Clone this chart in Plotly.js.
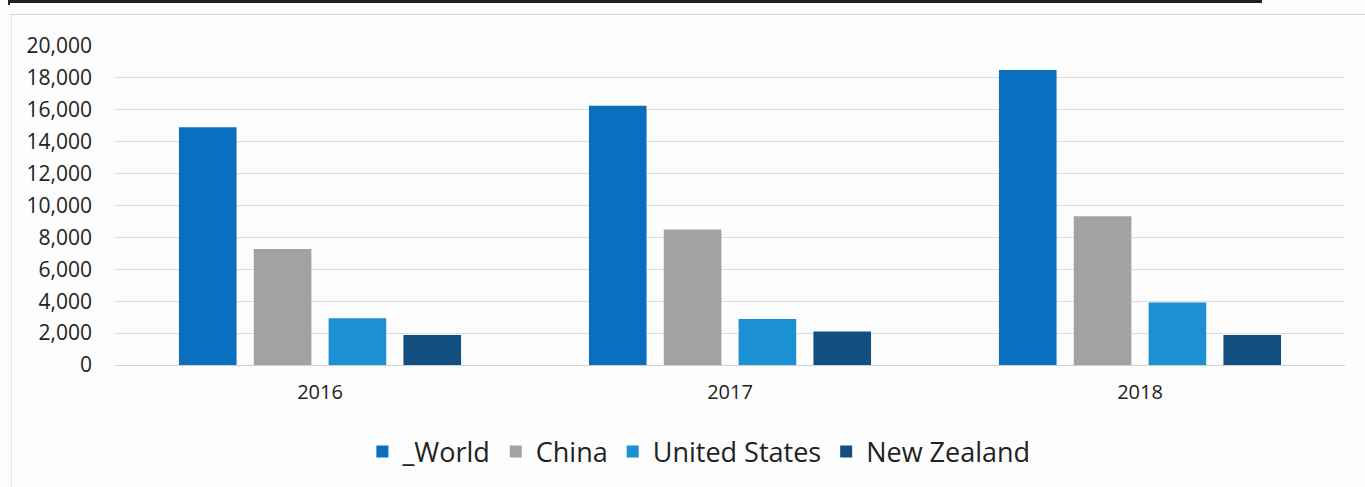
<!DOCTYPE html>
<html>
<head>
<meta charset="utf-8">
<script src="https://cdn.plot.ly/plotly-3.0.1.min.js"></script>
<style>
  html, body { margin: 0; padding: 0; background: #fdfdfd; }
  #wrap { position: relative; width: 1365px; height: 487px; overflow: hidden; }
  #chart { width: 1365px; height: 487px; }
  .deco { position: absolute; pointer-events: none; }
</style>
</head>
<body>
<div id="wrap">
  <div id="chart"></div>
  <div class="deco" style="left:8px; top:0px; width:1254px; height:3px; background:#222;"></div>
  <div class="deco" style="left:8px; top:0px; width:2px; height:5px; background:#222;"></div>
  <div class="deco" style="left:10px; top:14px; width:1355px; height:1px; background:#d6d6d6;"></div>
  <div class="deco" style="left:11px; top:15px; width:1px; height:472px; background:#e6e6e6;"></div>
</div>
<script>
const years = ['2016', '2017', '2018'];
const seriesNames = ['_World', 'China', 'United States', 'New Zealand'];
const worldVals = [14900, 16250, 18500];
const chinaVals = [7280, 8500, 9320];
const usVals = [2930, 2880, 3920];
const nzVals = [1880, 2100, 1880];
const yTickVals = [0, 2000, 4000, 6000, 8000, 10000, 12000, 14000, 16000, 18000, 20000];
const yTickText = ['0', '2,000', '4,000', '6,000', '8,000', '10,000', '12,000', '14,000', '16,000', '18,000', '20,000'];

const colors = ['#0a6fbf', '#a2a2a2', '#1b90d2', '#124e80'];
const allVals = [worldVals, chinaVals, usVals, nzVals];

const traces = seriesNames.map((name, i) => ({
  type: 'bar',
  name: name,
  x: years,
  y: allVals[i],
  marker: { color: colors[i] },
  hoverinfo: 'x+y+name'
}));

const layout = {
  width: 1365,
  height: 487,
  margin: { l: 115, r: 20, t: 46, b: 122 },
  paper_bgcolor: '#fdfdfd',
  plot_bgcolor: '#fdfdfd',
  font: { family: 'Open Sans, sans-serif', color: '#222' },
  barmode: 'group',
  bargap: 0.27,
  bargroupgap: 0.23,
  showlegend: true,
  legend: {
    orientation: 'h',
    xref: 'container', yref: 'container',
    x: 0.512, xanchor: 'center',
    y: 0.072, yanchor: 'middle',
    font: { size: 27, color: '#222', family: 'Open Sans, sans-serif' },
    traceorder: 'normal',
    itemwidth: 30
  },
  xaxis: {
    type: 'category',
    showgrid: false,
    showline: false,
    zeroline: false,
    ticks: '',
    ticklabelstandoff: 13,
    tickfont: { size: 20, color: '#222' }
  },
  yaxis: {
    range: [0, 20000],
    tickmode: 'array',
    tickvals: yTickVals,
    ticktext: yTickText,
    showgrid: true,
    gridcolor: '#dcdcdc',
    gridwidth: 1,
    zeroline: true,
    zerolinecolor: '#d0d0d0',
    zerolinewidth: 1,
    showline: false,
    ticks: '',
    ticklabelstandoff: 22,
    tickfont: { size: 21, color: '#222' }
  }
};

Plotly.newPlot('chart', traces, layout, { displayModeBar: false, staticPlot: true });
</script>
</body>
</html>
